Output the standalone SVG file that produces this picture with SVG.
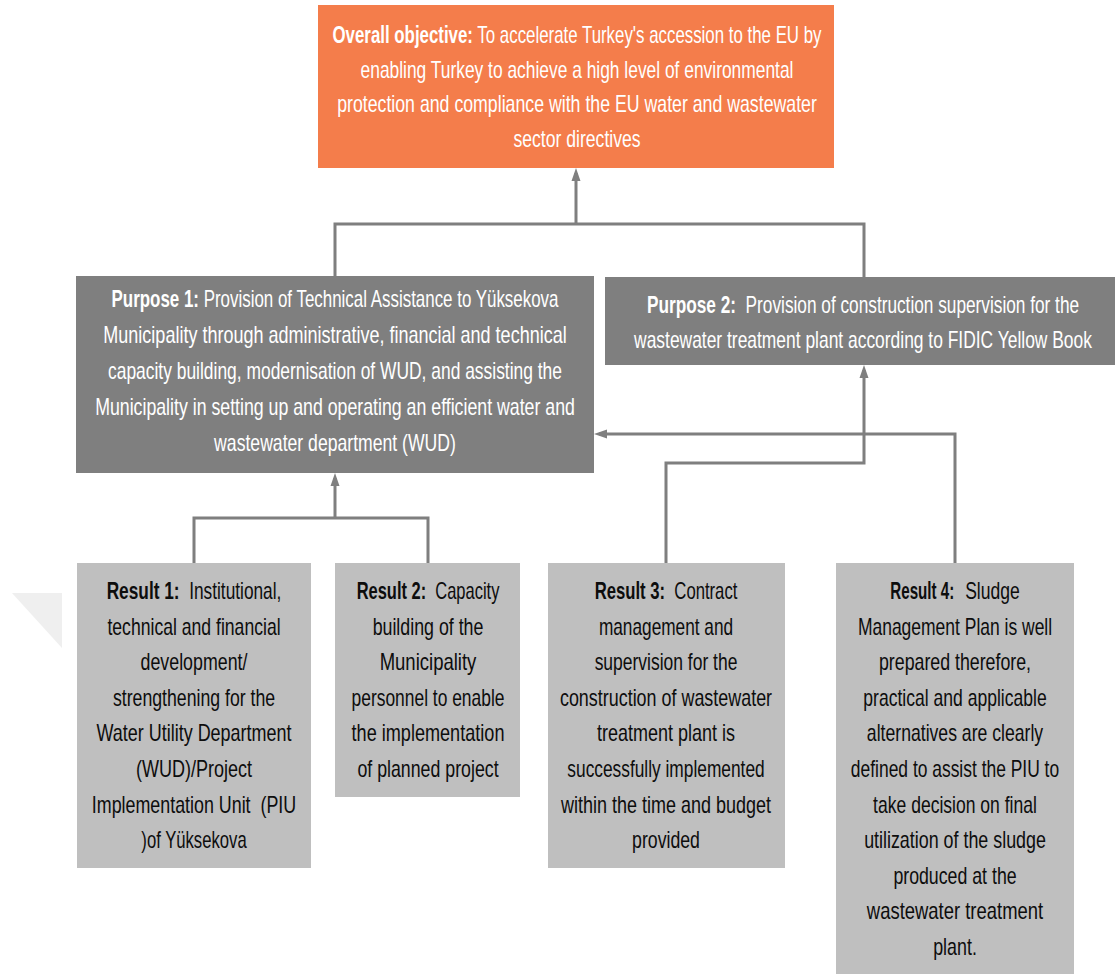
<svg xmlns="http://www.w3.org/2000/svg" width="1115" height="974" viewBox="0 0 1115 974">
  <style>
    .t { font-family: "Liberation Sans", Arial, sans-serif; font-size: 23px; text-anchor: middle; }
    .s { text-anchor: start; }
    .light { fill: #ffffff; }
    .dark { fill: #0d0d0d; }
    .b { font-weight: bold; }
    .objective { fill: #f47d4b; }
    .purpose { fill: #7f7f7f; }
    .result { fill: #bfbfbf; }
    .wire { fill: none; stroke: #7f7f7f; stroke-width: 3; }
  </style>
  <defs>
    <marker id="head" markerUnits="userSpaceOnUse" markerWidth="13" markerHeight="10" refX="8" refY="5" orient="auto">
      <path d="M0,0.5 L13,5 L0,9.5 z" fill="#7f7f7f"/>
    </marker>
  </defs>

  <rect width="1115" height="974" fill="#ffffff"/>

  <!-- faint background mark -->
  <polygon points="12,593 62,593 62,648" fill="#efefef"/>

  <!-- connectors -->
  <g id="connectors">
    <polyline class="wire" points="335,277 335,224 864,224 864,277"/>
    <line class="wire" x1="576" y1="224" x2="576" y2="173" marker-end="url(#head)"/>
    <polyline class="wire" points="194,563 194,518 428,518 428,563"/>
    <line class="wire" x1="335" y1="518" x2="335" y2="478" marker-end="url(#head)"/>
    <polyline class="wire" points="666,563 666,463 864,463 864,370" marker-end="url(#head)"/>
    <polyline class="wire" points="955,563 955,434 599,434" marker-end="url(#head)"/>
  </g>

  <!-- overall objective; labels are set in a condensed frame centred on each box -->
  <g id="objective">
    <rect class="objective" x="318" y="5" width="516" height="163"/>
    <g transform="matrix(0.78 0 0 1 577 0)">
      <text class="t light" x="0" y="43" textLength="627" lengthAdjust="spacingAndGlyphs"><tspan class="b">Overall objective:</tspan> To accelerate Turkey's accession to the EU by</text>
      <text class="t light" x="0" y="78" textLength="555" lengthAdjust="spacingAndGlyphs">enabling Turkey to achieve a high level of environmental</text>
      <text class="t light" x="0" y="112" textLength="615" lengthAdjust="spacingAndGlyphs">protection and compliance with the EU water and wastewater</text>
      <text class="t light" x="0" y="147" textLength="163" lengthAdjust="spacingAndGlyphs">sector directives</text>
    </g>
  </g>

  <!-- purpose 1 -->
  <g id="purpose1">
    <rect class="purpose" x="76" y="276" width="518" height="197"/>
    <g transform="matrix(0.78 0 0 1 335 0)">
      <text class="t light" x="0" y="307" textLength="573" lengthAdjust="spacingAndGlyphs"><tspan class="b">Purpose 1:</tspan> Provision of Technical Assistance to Yüksekova</text>
      <text class="t light" x="0" y="343" textLength="594" lengthAdjust="spacingAndGlyphs">Municipality through administrative, financial and technical</text>
      <text class="t light" x="0" y="379" textLength="582" lengthAdjust="spacingAndGlyphs">capacity building, modernisation of WUD, and assisting the</text>
      <text class="t light" x="0" y="415" textLength="615" lengthAdjust="spacingAndGlyphs">Municipality in setting up and operating an efficient water and</text>
      <text class="t light" x="0" y="451" textLength="310" lengthAdjust="spacingAndGlyphs">wastewater department (WUD)</text>
    </g>
  </g>

  <!-- purpose 2 -->
  <g id="purpose2">
    <rect class="purpose" x="605" y="277" width="510" height="88"/>
    <g transform="matrix(0.78 0 0 1 863 0)">
      <text class="t light" x="0" y="313" textLength="554" lengthAdjust="spacingAndGlyphs"><tspan class="b">Purpose 2:</tspan>&#160; Provision of construction supervision for the</text>
      <text class="t light" x="0" y="348" textLength="587" lengthAdjust="spacingAndGlyphs">wastewater treatment plant according to FIDIC Yellow Book</text>
    </g>
  </g>

  <!-- result 1 -->
  <g id="result1">
    <rect class="result" x="77" y="563" width="234" height="305"/>
    <g transform="matrix(0.78 0 0 1 194 0)">
      <text class="t dark" x="0" y="599" textLength="224" lengthAdjust="spacingAndGlyphs"><tspan class="b">Result 1:</tspan>&#160; Institutional,</text>
      <text class="t dark" x="0" y="635" textLength="222" lengthAdjust="spacingAndGlyphs">technical and financial</text>
      <text class="t dark" x="0" y="670" textLength="137" lengthAdjust="spacingAndGlyphs">development/</text>
      <text class="t dark" x="0" y="706" textLength="208" lengthAdjust="spacingAndGlyphs">strengthening for the</text>
      <text class="t dark" x="0" y="741" textLength="250" lengthAdjust="spacingAndGlyphs">Water Utility Department</text>
      <text class="t dark" x="0" y="777" textLength="149" lengthAdjust="spacingAndGlyphs">(WUD)/Project</text>
      <text class="t dark" x="0" y="813" textLength="262" lengthAdjust="spacingAndGlyphs">Implementation Unit&#160; (PIU</text>
      <text class="t dark" x="0" y="848" textLength="135" lengthAdjust="spacingAndGlyphs">)of Yüksekova</text>
    </g>
  </g>

  <!-- result 2 -->
  <g id="result2">
    <rect class="result" x="335" y="563" width="185" height="234"/>
    <g transform="matrix(0.78 0 0 1 428 0)">
      <text class="t dark" x="0" y="599" textLength="183" lengthAdjust="spacingAndGlyphs"><tspan class="b">Result 2:</tspan>&#160; Capacity</text>
      <text class="t dark" x="0" y="635" textLength="142" lengthAdjust="spacingAndGlyphs">building of the</text>
      <text class="t dark" x="0" y="670" textLength="124" lengthAdjust="spacingAndGlyphs">Municipality</text>
      <text class="t dark" x="0" y="706" textLength="196" lengthAdjust="spacingAndGlyphs">personnel to enable</text>
      <text class="t dark" x="0" y="741" textLength="196" lengthAdjust="spacingAndGlyphs">the implementation</text>
      <text class="t dark" x="0" y="777" textLength="181" lengthAdjust="spacingAndGlyphs">of planned project</text>
    </g>
  </g>

  <!-- result 3 -->
  <g id="result3">
    <rect class="result" x="548" y="563" width="237" height="305"/>
    <g transform="matrix(0.78 0 0 1 666 0)">
      <text class="t dark" x="0" y="599" textLength="183" lengthAdjust="spacingAndGlyphs"><tspan class="b">Result 3:</tspan>&#160; Contract</text>
      <text class="t dark" x="0" y="635" textLength="172" lengthAdjust="spacingAndGlyphs">management and</text>
      <text class="t dark" x="0" y="670" textLength="183" lengthAdjust="spacingAndGlyphs">supervision for the</text>
      <text class="t dark" x="0" y="706" textLength="272" lengthAdjust="spacingAndGlyphs">construction of wastewater</text>
      <text class="t dark" x="0" y="741" textLength="177" lengthAdjust="spacingAndGlyphs">treatment plant is</text>
      <text class="t dark" x="0" y="777" textLength="253" lengthAdjust="spacingAndGlyphs">successfully implemented</text>
      <text class="t dark" x="0" y="813" textLength="269" lengthAdjust="spacingAndGlyphs">within the time and budget</text>
      <text class="t dark" x="0" y="848" textLength="87" lengthAdjust="spacingAndGlyphs">provided</text>
    </g>
  </g>

  <!-- result 4 -->
  <g id="result4">
    <rect class="result" x="836" y="563" width="238" height="411"/>
    <g transform="matrix(0.78 0 0 1 955 0)">
      <text class="t s dark b" x="-83" y="599" textLength="82" lengthAdjust="spacingAndGlyphs">Result 4:</text>
      <text class="t s dark" x="13" y="599" textLength="70" lengthAdjust="spacingAndGlyphs">Sludge</text>
      <text class="t dark" x="0" y="635" textLength="249" lengthAdjust="spacingAndGlyphs">Management Plan is well</text>
      <text class="t dark" x="0" y="670" textLength="195" lengthAdjust="spacingAndGlyphs">prepared therefore,</text>
      <text class="t dark" x="0" y="706" textLength="235" lengthAdjust="spacingAndGlyphs">practical and applicable</text>
      <text class="t dark" x="0" y="741" textLength="226" lengthAdjust="spacingAndGlyphs">alternatives are clearly</text>
      <text class="t dark" x="0" y="777" textLength="267" lengthAdjust="spacingAndGlyphs">defined to assist the PIU to</text>
      <text class="t dark" x="0" y="813" textLength="210" lengthAdjust="spacingAndGlyphs">take decision on final</text>
      <text class="t dark" x="0" y="848" textLength="233" lengthAdjust="spacingAndGlyphs">utilization of the sludge</text>
      <text class="t dark" x="0" y="884" textLength="158" lengthAdjust="spacingAndGlyphs">produced at the</text>
      <text class="t dark" x="0" y="919" textLength="226" lengthAdjust="spacingAndGlyphs">wastewater treatment</text>
      <text class="t dark" x="0" y="955" textLength="56" lengthAdjust="spacingAndGlyphs">plant.</text>
    </g>
  </g>
</svg>
